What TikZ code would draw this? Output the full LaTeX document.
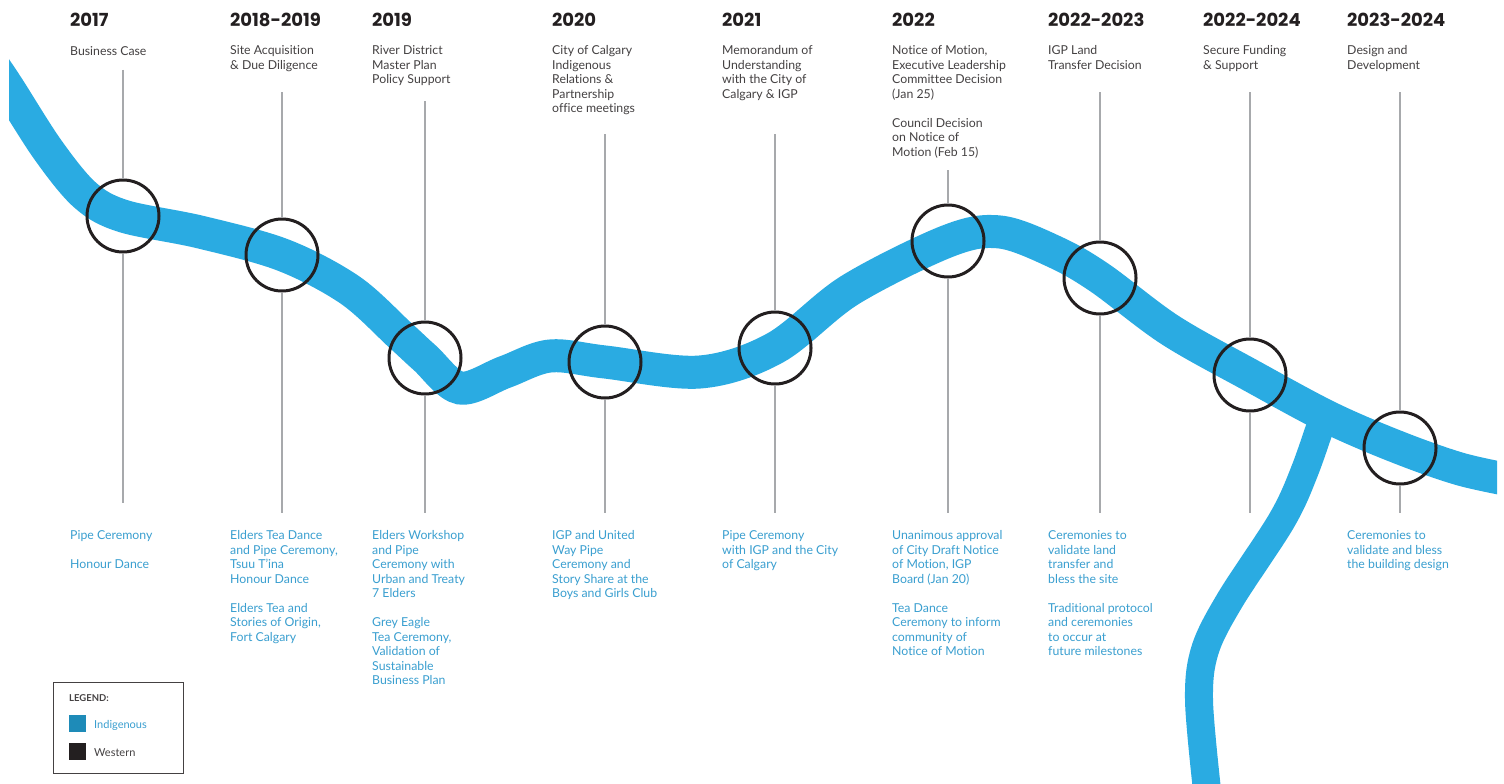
\documentclass[tikz,border=0pt]{standalone}
\usepackage{fontspec}
\setmainfont{Lato}[Ligatures=NoCommon]
\newfontfamily\yearfont{Poppins}
\definecolor{river}{HTML}{2AABE2}
\definecolor{ctext}{HTML}{3A9FD0}
\definecolor{stem}{HTML}{A7A9AC}
\definecolor{indig}{HTML}{1E8BB8}
\definecolor{western}{HTML}{231F20}
\begin{document}
\begin{tikzpicture}[x=1pt,y=-1pt,
  yearlbl/.style={anchor=base west,inner sep=0,font=\yearfont\bfseries\fontsize{18}{18}\selectfont,text=western},
  toplbl/.style={anchor=north west,inner sep=0,align=left,font=\fontsize{12.3}{14.5}\selectfont,text=western!85,execute at begin node={\rule{0pt}{10pt}}},
  botlbl/.style={toplbl,text=ctext},
  stemline/.style={draw=stem,line width=2.2pt},
  milestone/.style={circle,draw=western,line width=3pt,minimum size=72pt,inner sep=0},
  riverline/.style={draw=river,line width=33pt}]
\useasboundingbox (0,0) rectangle (1504,784);
\fill[white] (0,0) rectangle (1504,784);
% river
\begin{scope}
\clip (9,0) rectangle (1497,784);
\draw[riverline,line cap=butt] plot[smooth,tension=0.55] coordinates {(-5,68) (9,89) (48,150) (85,195) (123,216) (200,232) (283,255) (350,290) (400,335) (425,358) (460,388) (505,372) (550,356) (605,362) (700,372) (775,348) (850,290) (948,241) (1000,232) (1055,252) (1100,278) (1170,330) (1250,375) (1330,418) (1400,448) (1460,469) (1510,480)};
\draw[river,line width=28pt] plot[smooth,tension=0.55] coordinates {(1325,412) (1305,470) (1282,520) (1230,600) (1205,650) (1199,700) (1207,790)};
\end{scope}
% circles
\foreach \n/\x/\y in {c1/123/216,c2/282/255,c3/425/358,c4/605/362,c5/775/348,c6/948/241,c7/1100/278,c8/1250/375,c9/1400/448}
  \node[milestone] (\n) at (\x,\y) {};
% stems
\foreach \n/\x/\t/\b in {c1/123/70/503,c2/282/92/513,c3/425/101/513,c4/605/134/513,c5/775/134/513,c6/948/170/513,c7/1100/92/513,c8/1250/92/513,c9/1400/92/513}{
  \coordinate (\n top) at (\x,\t);
  \coordinate (\n bot) at (\x,\b);
  \draw[stemline] (\n top) -- (\n.north);
  \draw[stemline] (\n.south) -- (\n bot);
}
% years
\node[yearlbl] (y1) at (70,27) {2017};
\node[yearlbl] (y2) at (230,27) {2018-2019};
\node[yearlbl] (y3) at (372,27) {2019};
\node[yearlbl] (y4) at (552,27) {2020};
\node[yearlbl] (y5) at (722,27) {2021};
\node[yearlbl] (y6) at (892,27) {2022};
\node[yearlbl] (y7) at (1048,27) {2022-2023};
\node[yearlbl] (y8) at (1203,27) {2022-2024};
\node[yearlbl] (y9) at (1347,27) {2023-2024};
% top descriptions
\node[toplbl] (t1) at (70,45.5) {Business Case};
\node[toplbl] (t2) at (230,45.5) {Site Acquisition\\\& Due Diligence};
\node[toplbl] (t3) at (372,45.5) {River District\\Master Plan\\Policy Support};
\node[toplbl] (t4) at (552,45.5) {City of Calgary\\Indigenous\\Relations \&\\Partnership\\office meetings};
\node[toplbl] (t5) at (722,45.5) {Memorandum of\\Understanding\\with the City of\\Calgary \& IGP};
\node[toplbl] (t6) at (892,45.5) {Notice of Motion,\\Executive Leadership\\Committee Decision\\(Jan 25)\\[14.5pt]Council Decision\\on Notice of\\Motion (Feb 15)};
\node[toplbl] (t7) at (1048,45.5) {IGP Land\\Transfer Decision};
\node[toplbl] (t8) at (1203,45.5) {Secure Funding\\\& Support};
\node[toplbl] (t9) at (1347,45.5) {Design and\\Development};
% bottom descriptions
\node[botlbl] (b1) at (70,530.5) {Pipe Ceremony\\[14.5pt]Honour Dance};
\node[botlbl] (b2) at (230,530.5) {Elders Tea Dance\\and Pipe Ceremony,\\Tsuu T'ina\\Honour Dance\\[14.5pt]Elders Tea and\\Stories of Origin,\\Fort Calgary};
\node[botlbl] (b3) at (372,530.5) {Elders Workshop\\and Pipe\\Ceremony with\\Urban and Treaty\\7 Elders\\[14.5pt]Grey Eagle\\Tea Ceremony,\\Validation of\\Sustainable\\Business Plan};
\node[botlbl] (b4) at (552,530.5) {IGP and United\\Way Pipe\\Ceremony and\\Story Share at the\\Boys and Girls Club};
\node[botlbl] (b5) at (722,530.5) {Pipe Ceremony\\with IGP and the City\\of Calgary};
\node[botlbl] (b6) at (892,530.5) {Unanimous approval\\of City Draft Notice\\of Motion, IGP\\Board (Jan 20)\\[14.5pt]Tea Dance\\Ceremony to inform\\community of\\Notice of Motion};
\node[botlbl] (b7) at (1048,530.5) {Ceremonies to\\validate land\\transfer and\\bless the site\\[14.5pt]Traditional protocol\\and ceremonies\\to occur at\\future milestones};
\node[botlbl] (b9) at (1347,530.5) {Ceremonies to\\validate and bless\\the building design};
% legend
\draw[western!85,line width=1pt] (53.5,682.5) rectangle (183.5,773.5);
\node[anchor=base west,inner sep=0,font=\bfseries\fontsize{9.5}{10}\selectfont,text=western!85] (lg) at (69,701) {LEGEND:};
\fill[indig] (69,715) rectangle (86,732);
\fill[western] (69,743) rectangle (86,760);
\node[anchor=base west,inner sep=0,font=\fontsize{11}{12}\selectfont,text=ctext] (li) at (94,728) {Indigenous};
\node[anchor=base west,inner sep=0,font=\fontsize{11}{12}\selectfont,text=western!85] (lw) at (94,756) {Western};
\end{tikzpicture}
\end{document}
